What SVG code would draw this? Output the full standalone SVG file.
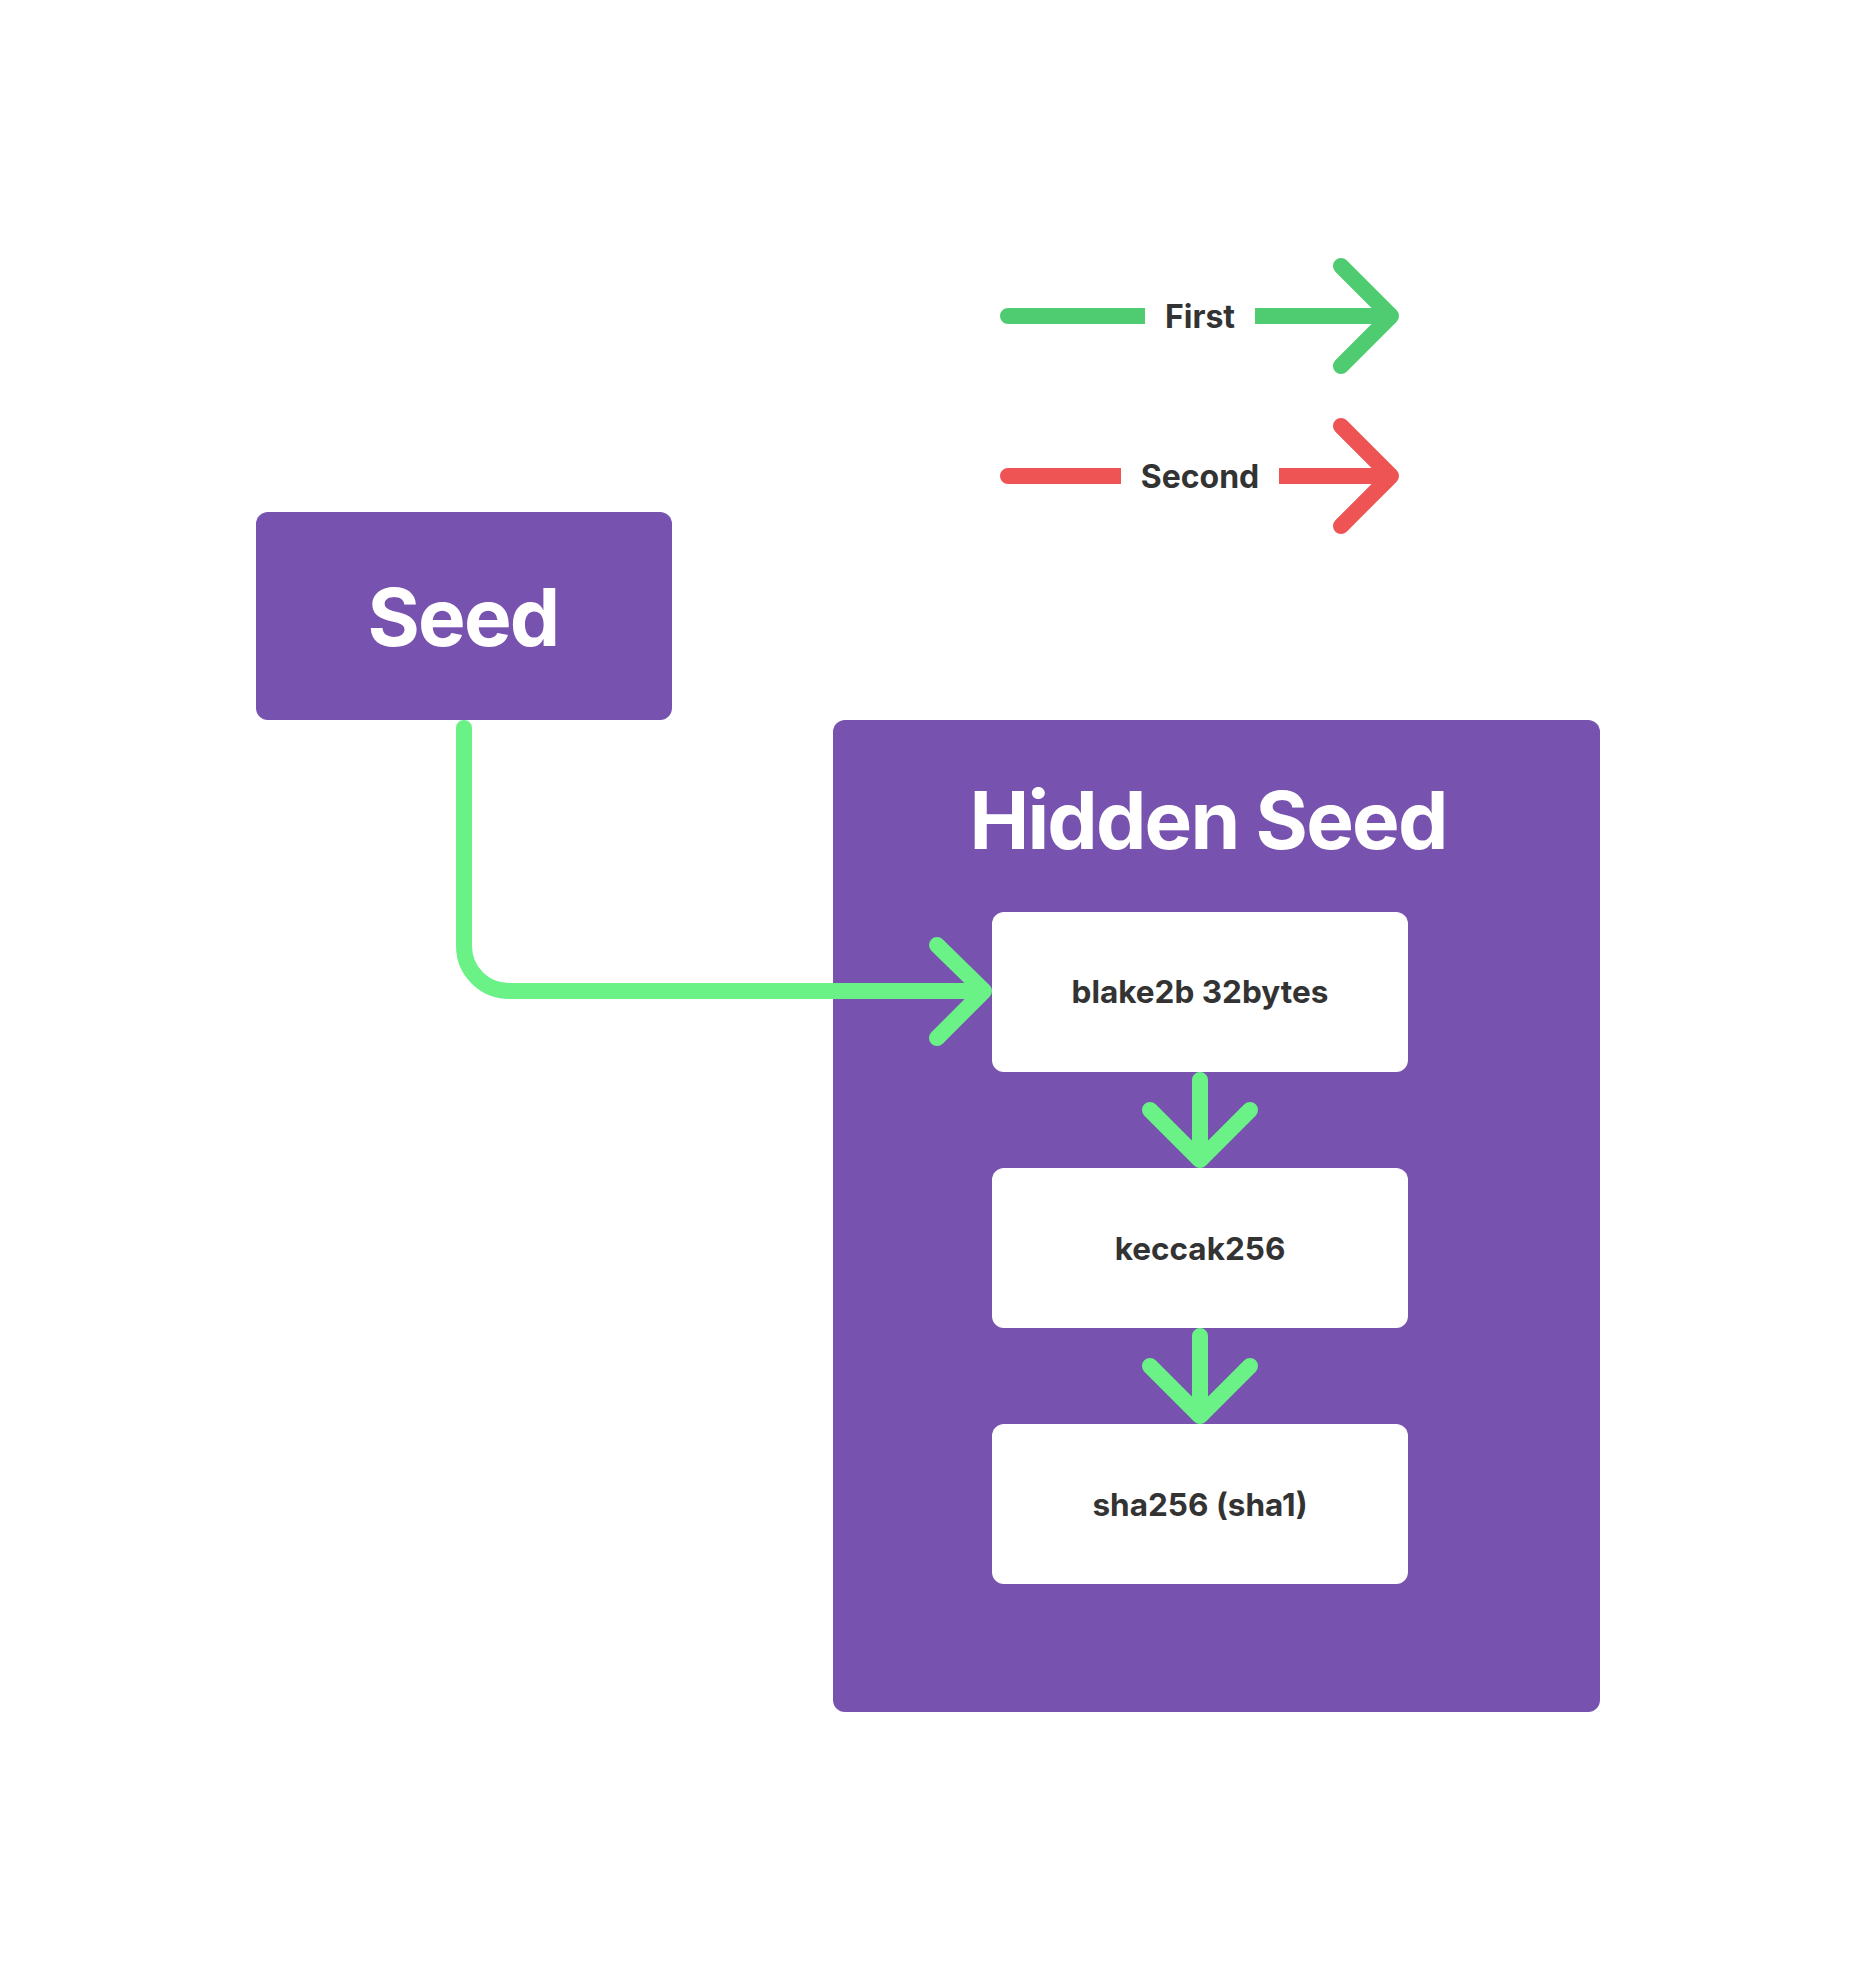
<svg xmlns="http://www.w3.org/2000/svg" width="1856" height="1967" viewBox="0 0 1856 1967">
<style>
.purple{fill:#7752AF}
.white{fill:#FFFFFF}
.title{font-family:Inter,"Noto Sans","Liberation Sans",sans-serif;font-weight:700;fill:#FFFFFF;text-anchor:middle;font-size:80px;letter-spacing:-1.8px}
.lbl{font-family:Inter,"Noto Sans","Liberation Sans",sans-serif;font-weight:700;fill:#333333;text-anchor:middle;font-size:31.5px}
.leg{font-family:Inter,"Noto Sans","Liberation Sans",sans-serif;font-weight:700;fill:#333333;text-anchor:middle;font-size:32px}
.conn{fill:none;stroke:#6AF287;stroke-width:16;stroke-linecap:round;stroke-linejoin:round}
.lgreen{fill:none;stroke:#4FCB71;stroke-width:16;stroke-linecap:round;stroke-linejoin:round}
.lred{fill:none;stroke:#EF5454;stroke-width:16;stroke-linecap:round;stroke-linejoin:round}
</style>
<rect width="1856" height="1967" fill="#FFFFFF"/>
<g id="legend">
  <g id="legend-first">
    <path class="lgreen" d="M1008 316 H1391 M1341 266 L1391 316 L1341 366"/>
    <rect x="1145" y="296" width="110" height="40" fill="#FFFFFF"/>
    <text class="leg" x="1200" y="328">First</text>
  </g>
  <g id="legend-second">
    <path class="lred" d="M1008 476 H1391 M1341 426 L1391 476 L1341 526"/>
    <rect x="1121" y="456" width="158" height="40" fill="#FFFFFF"/>
    <text class="leg" x="1200" y="488">Second</text>
  </g>
</g>
<g id="seed">
  <rect class="purple" x="256" y="512" width="416" height="208" rx="12"/>
  <text class="title" x="463" y="646">Seed</text>
</g>
<g id="hidden-seed">
  <rect class="purple" x="833" y="720" width="767" height="992" rx="12"/>
  <text class="title" x="1208" y="849">Hidden Seed</text>
</g>
<g id="blake2b">
  <rect class="white" x="992" y="912" width="416" height="160" rx="12"/>
  <text class="lbl" x="1200" y="1003">blake2b 32bytes</text>
</g>
<g id="keccak256">
  <rect class="white" x="992" y="1168" width="416" height="160" rx="12"/>
  <text class="lbl" x="1200" y="1260">keccak256</text>
</g>
<g id="sha256">
  <rect class="white" x="992" y="1424" width="416" height="160" rx="12"/>
  <text class="lbl" x="1200" y="1516">sha256 (sha1)</text>
</g>
<g id="connectors">
  <path class="conn" d="M464 728 V946 A45 45 0 0 0 509 991 H984 M937 945 L984 991 L937 1038"/>
  <path class="conn" d="M1200 1080 V1160 M1150 1110 L1200 1160 L1250 1110"/>
  <path class="conn" d="M1200 1336 V1416 M1150 1366 L1200 1416 L1250 1366"/>
</g>
</svg>
